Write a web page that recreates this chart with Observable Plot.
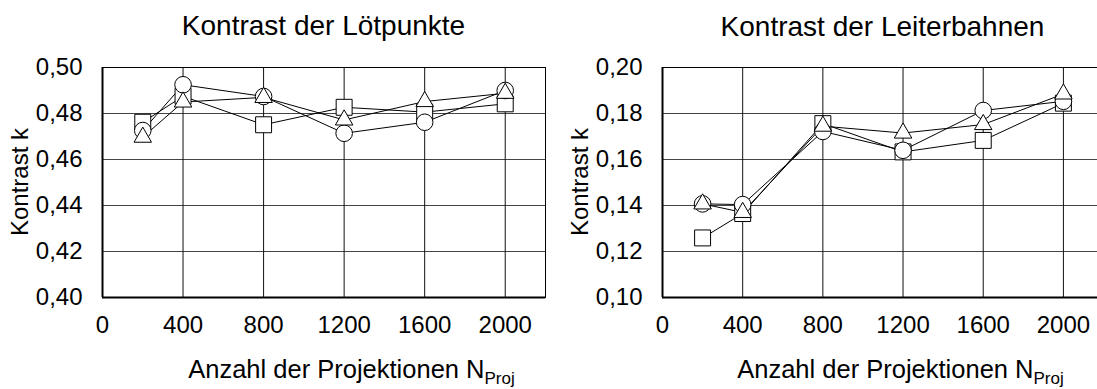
<!DOCTYPE html>
<html>
<head>
<meta charset="utf-8">
<script src="https://cdn.jsdelivr.net/npm/d3@7"></script>
<script src="https://cdn.jsdelivr.net/npm/@observablehq/plot@0.6"></script>
<style>
  html, body { margin: 0; padding: 0; background: #fff; }
  #wrap { display: flex; flex-wrap: nowrap; width: 1097px; height: 389px; overflow: hidden; }
  #wrap > div { flex: none; }
  svg { font-family: "Liberation Sans", Arial, sans-serif; }
</style>
</head>
<body>
<div id="wrap"><div id="left"></div><div id="right"></div></div>
<script>
// ---- data ----
const projections = [200, 400, 800, 1200, 1600, 2000];
const seriesSymbols = ["square", "circle", "triangle"];

const loetSquare   = [0.4762, 0.4875, 0.4751, 0.4827, 0.4806, 0.4842];
const loetCircle   = [0.4726, 0.4925, 0.4874, 0.4714, 0.4762, 0.4900];
const loetTriangle = [0.4697, 0.4850, 0.4870, 0.4772, 0.4852, 0.4888];

const leitSquare   = [0.1259, 0.1365, 0.1756, 0.1633, 0.1683, 0.1845];
const leitCircle   = [0.1407, 0.1404, 0.1722, 0.1640, 0.1813, 0.1853];
const leitTriangle = [0.1407, 0.1370, 0.1745, 0.1715, 0.1752, 0.1885];

const xTicks = [0, 400, 800, 1200, 1600, 2000];
const xDomain = [0, 2200];
const loetYTicks = [0.40, 0.42, 0.44, 0.46, 0.48, 0.50];
const leitYTicks = [0.10, 0.12, 0.14, 0.16, 0.18, 0.20];

const titleLoet = "Kontrast der Lötpunkte";
const titleLeit = "Kontrast der Leiterbahnen";
const yLabel = "Kontrast k";
const xLabelMain = "Anzahl der Projektionen N";
const xLabelSub = "Proj";

// ---- chart ----
const FONT = 24;
const TITLE_FONT = 28;
const XLABEL_FONT = 25.5;
const symbolR = {square: 9, circle: 8.3, triangle: 6.5};

function makeChart({title, series, yTicks, width, marginLeft, marginRight, titleY, labelShift}) {
  const height = 389, marginTop = 67, marginBottom = 92;
  const data = [];
  series.forEach((vals, si) => vals.forEach((v, i) =>
    data.push({x: projections[i], y: v, s: seriesSymbols[si]})));
  const yDomain = [yTicks[0], yTicks[yTicks.length - 1]];
  const marks = [
    Plot.gridY({ticks: yTicks.slice(1, -1), stroke: "#444", strokeOpacity: 1}),
    Plot.gridX({ticks: xTicks.slice(1), stroke: "#111", strokeOpacity: 1}),
    Plot.frame({stroke: "#000", strokeWidth: 1}),
    Plot.ruleX([xDomain[0]], {stroke: "#000", strokeWidth: 2}),
    Plot.ruleY([yDomain[0]], {stroke: "#000", strokeWidth: 2}),
    Plot.axisX({ticks: xTicks, tickSize: 0, tickPadding: 18, label: null, fontSize: FONT,
      tickFormat: d => String(d)}),
    Plot.axisY({ticks: yTicks, tickSize: 0, tickPadding: 20, label: null, fontSize: FONT,
      tickFormat: d => d.toFixed(2).replace(".", ",")})
  ];
  for (const s of seriesSymbols) {
    marks.push(Plot.line(data, {filter: d => d.s === s, x: "x", y: "y", stroke: "#000", strokeWidth: 1}));
  }
  for (const s of seriesSymbols) {
    marks.push(Plot.dot(data, {filter: d => d.s === s, x: "x", y: "y", symbol: s, r: symbolR[s],
      fill: "#fff", stroke: "#000", strokeWidth: 1}));
  }
  const chart = Plot.plot({
    width, height, marginTop, marginBottom, marginLeft, marginRight,
    style: {fontSize: FONT + "px", fontFamily: "'Liberation Sans', Arial, sans-serif", color: "#000", background: "#fff", overflow: "visible"},
    x: {domain: xDomain},
    y: {domain: yDomain},
    marks
  });
  const svg = d3.select(chart);
  const cx = (marginLeft + width - marginRight) / 2;
  const cy = (marginTop + height - marginBottom) / 2;
  svg.append("text").attr("x", cx).attr("y", titleY).attr("text-anchor", "middle")
    .attr("font-size", TITLE_FONT).attr("fill", "#000").text(title);
  const xl = svg.append("text").attr("x", cx + labelShift).attr("y", 378).attr("text-anchor", "middle")
    .attr("font-size", XLABEL_FONT).attr("fill", "#000");
  xl.append("tspan").text(xLabelMain);
  xl.append("tspan").attr("font-size", 17).attr("dy", 6).text(xLabelSub);
  svg.append("text").attr("transform", `translate(${marginLeft - 74},${cy}) rotate(-90)`)
    .attr("text-anchor", "middle").attr("font-size", FONT).attr("fill", "#000").text(yLabel);
  return chart;
}

document.getElementById("left").appendChild(makeChart({
  title: titleLoet, series: [loetSquare, loetCircle, loetTriangle], yTicks: loetYTicks,
  width: 550, marginLeft: 102, marginRight: 5, titleY: 35, labelShift: 28
}));
document.getElementById("right").appendChild(makeChart({
  title: titleLeit, series: [leitSquare, leitCircle, leitTriangle], yTicks: leitYTicks,
  width: 556, marginLeft: 112, marginRight: 3, titleY: 36, labelShift: 18
}));
</script>
</body>
</html>
